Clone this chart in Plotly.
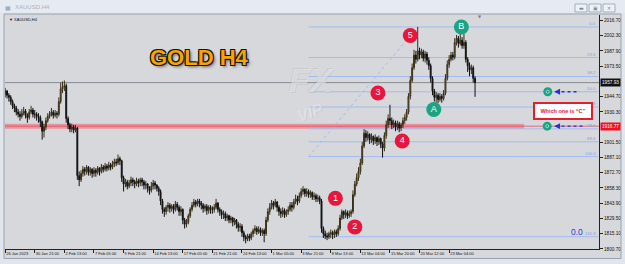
import plotly.graph_objects as go

# ---------------- data (XAUUSD H4, bars indexed from 26 Jan 2023) ----------------
first_open = 1947.0
closes = [
    1950, 1946, 1944, 1940, 1936, 1934, 1930, 1928, 1926, 1929, 1931, 1927, 1925, 1930, 1932, 1928,
    1928, 1926, 1925, 1921, 1912, 1916, 1922, 1926, 1928, 1930, 1927, 1929, 1928, 1940, 1952, 1954,
    1955, 1924, 1918, 1914, 1916, 1913, 1915, 1870, 1866, 1872, 1876, 1874, 1878, 1873, 1876, 1872,
    1875, 1873, 1877, 1874, 1878, 1876, 1879, 1877, 1880, 1878, 1881, 1883, 1882, 1886, 1884, 1868,
    1862, 1864, 1860, 1863, 1866, 1864, 1862, 1865, 1863, 1866, 1864, 1861, 1862, 1858, 1856, 1860,
    1863, 1861, 1858, 1855, 1846, 1838, 1836, 1840, 1842, 1839, 1841, 1838, 1843, 1840, 1836, 1838,
    1828, 1824, 1826, 1832, 1838, 1842, 1845, 1843, 1846, 1844, 1842, 1839, 1841, 1837, 1840, 1838,
    1838, 1840, 1844, 1838, 1836, 1833, 1834, 1830, 1832, 1828, 1830, 1826, 1828, 1824, 1821, 1822,
    1816, 1812, 1810, 1813, 1811, 1815, 1818, 1820, 1817, 1819, 1816, 1818, 1815, 1828, 1836, 1840,
    1844, 1842, 1845, 1840, 1836, 1834, 1837, 1833, 1836, 1838, 1842, 1840, 1845, 1848, 1846, 1851,
    1855, 1857, 1853, 1855, 1852, 1854, 1850, 1851, 1848, 1849, 1846, 1820, 1815, 1813, 1812, 1815,
    1816, 1814, 1817, 1815, 1820, 1830, 1836, 1833, 1835, 1832, 1834, 1836, 1852, 1862, 1868, 1874,
    1882, 1898, 1910, 1906, 1909, 1904, 1907, 1903, 1906, 1902, 1905, 1900, 1896, 1908, 1918, 1924,
    1922, 1918, 1920, 1916, 1919, 1915, 1918, 1922, 1925, 1930, 1945, 1960, 1972, 1984, 1980, 1988,
    1984, 1987, 1981, 1985, 1979, 1974, 1962, 1950, 1944, 1946, 1942, 1945, 1943, 1948, 1962, 1975,
    1980, 1984, 1982, 1996, 2000, 1995, 1998, 1993, 1996, 1980, 1974, 1970, 1972, 1962, 1957.93,
]
highs = [
    1953, 1951, 1948, 1946, 1942, 1938, 1936, 1933, 1931, 1933, 1935, 1933, 1929, 1933, 1936, 1934,
    1932, 1930, 1929, 1927, 1922, 1919, 1925, 1929, 1931, 1934, 1932, 1932, 1931, 1944, 1958, 1959,
    1960, 1957, 1926, 1920, 1919, 1918, 1918, 1916, 1874, 1875, 1879, 1878, 1880, 1879, 1878, 1877,
    1878, 1877, 1879, 1878, 1881, 1880, 1882, 1881, 1883, 1882, 1884, 1886, 1886, 1890, 1888, 1885,
    1870, 1867, 1866, 1866, 1869, 1868, 1866, 1868, 1867, 1868, 1868, 1866, 1865, 1863, 1860, 1864,
    1866, 1865, 1862, 1860, 1857, 1848, 1840, 1842, 1845, 1844, 1843, 1843, 1846, 1845, 1842, 1841,
    1839, 1830, 1829, 1834, 1840, 1845, 1848, 1847, 1848, 1848, 1846, 1844, 1843, 1843, 1842, 1842,
    1841, 1843, 1848, 1845, 1840, 1838, 1837, 1836, 1834, 1833, 1832, 1831, 1830, 1829, 1826, 1825,
    1824, 1818, 1814, 1815, 1815, 1817, 1820, 1823, 1822, 1822, 1821, 1820, 1820, 1831, 1839, 1844,
    1847, 1846, 1848, 1846, 1842, 1839, 1840, 1839, 1838, 1841, 1845, 1845, 1848, 1852, 1851, 1854,
    1858, 1860, 1858, 1858, 1857, 1856, 1855, 1854, 1853, 1852, 1851, 1848, 1822, 1818, 1816, 1817,
    1819, 1818, 1819, 1819, 1823, 1833, 1838, 1837, 1838, 1837, 1837, 1838, 1856, 1865, 1872, 1878,
    1886, 1902, 1914, 1913, 1912, 1910, 1910, 1908, 1909, 1907, 1908, 1906, 1902, 1911, 1922, 1928,
    1937, 1925, 1923, 1922, 1922, 1921, 1920, 1925, 1928, 1933, 1948, 1964, 1976, 1989, 1988, 2010.6,
    1991, 1990, 1989, 1988, 1987, 1982, 1976, 1964, 1952, 1949, 1948, 1948, 1947, 1951, 1966, 1979,
    1984, 1987, 1987, 2000, 2003, 2002, 2004, 2001, 2004, 1998, 1982, 1977, 1975, 1974, 1964,
]
lows = [
    1944, 1943, 1940, 1937, 1933, 1930, 1927, 1925, 1922, 1924, 1927, 1924, 1920, 1923, 1928, 1925,
    1924, 1922, 1920, 1916, 1904, 1906, 1913, 1920, 1924, 1926, 1924, 1925, 1924, 1926, 1938, 1948,
    1950, 1920, 1914, 1911, 1911, 1910, 1911, 1866, 1860, 1864, 1869, 1870, 1871, 1870, 1870, 1868,
    1869, 1869, 1871, 1870, 1872, 1873, 1874, 1874, 1875, 1875, 1876, 1878, 1879, 1880, 1880, 1864,
    1855, 1859, 1857, 1858, 1860, 1860, 1858, 1860, 1859, 1860, 1860, 1857, 1857, 1854, 1852, 1854,
    1857, 1857, 1855, 1851, 1842, 1834, 1831, 1833, 1836, 1835, 1836, 1834, 1836, 1837, 1832, 1832,
    1824, 1820, 1821, 1824, 1830, 1836, 1840, 1840, 1841, 1840, 1838, 1835, 1836, 1833, 1834, 1834,
    1834, 1835, 1838, 1835, 1832, 1829, 1829, 1827, 1827, 1825, 1825, 1822, 1823, 1820, 1817, 1817,
    1812, 1808, 1806, 1808, 1808, 1809, 1812, 1815, 1814, 1815, 1813, 1813, 1807, 1813, 1826, 1833,
    1838, 1838, 1840, 1836, 1832, 1830, 1831, 1830, 1831, 1833, 1836, 1836, 1838, 1843, 1842, 1844,
    1849, 1852, 1850, 1850, 1849, 1849, 1847, 1847, 1845, 1845, 1843, 1816, 1811, 1810, 1809, 1810,
    1811, 1810, 1811, 1812, 1813, 1818, 1828, 1829, 1830, 1829, 1830, 1831, 1834, 1850, 1860, 1865,
    1871, 1880, 1896, 1902, 1903, 1900, 1901, 1899, 1900, 1898, 1899, 1896, 1887, 1893, 1905, 1915,
    1918, 1914, 1915, 1912, 1913, 1911, 1912, 1915, 1919, 1922, 1928, 1942, 1958, 1970, 1976, 1978,
    1980, 1981, 1978, 1977, 1975, 1970, 1958, 1946, 1940, 1939, 1938.5, 1940, 1939, 1941, 1946, 1960,
    1972, 1978, 1979, 1980, 1993, 1991, 1993, 1990, 1990, 1977, 1968, 1964, 1966, 1958, 1944.5,
]
opens = [first_open] + closes[:-1]
bars = list(range(len(closes)))

date_labels = ["26 Jan 2023", "30 Jan 21:00", "2 Feb 13:00", "7 Feb 05:00", "9 Feb 21:00",
               "14 Feb 13:00", "17 Feb 05:00", "21 Feb 21:00", "24 Feb 13:00", "1 Mar 05:00",
               "3 Mar 21:00", "8 Mar 13:00", "13 Mar 04:00", "15 Mar 20:00", "20 Mar 12:00",
               "23 Mar 04:00"]
date_bars = [0, 16, 32, 48, 64, 80, 96, 112, 128, 144, 160, 176, 192, 208, 224, 240]

price_ticks = [2016.70, 2002.30, 1987.90, 1973.50, 1944.70, 1930.30, 1901.50,
               1887.10, 1872.70, 1858.30, 1843.90, 1829.50, 1815.10, 1800.70]

current_price = 1957.93
level_c = 1916.77

fib_levels = [0.0, 23.6, 38.2, 50.0, 61.8, 78.6, 88.6, 100.0, 161.8]
fib_high = 2010.6
fib_low = 1888.0
fib_start_bar = 164
fib_high_bar = 223

red_marks = ["1", "2", "3", "4", "5"]
red_mark_bar = [178.5, 189.0, 201.5, 214.6, 219.0]
red_mark_price = [1848.5, 1821.5, 1948.2, 1902.8, 2002.5]
teal_marks = ["A", "B"]
teal_mark_bar = [231.7, 246.6]
teal_mark_price = [1932.5, 2010.5]

# ---------------- geometry helpers (pixel -> paper) ----------------
W, H = 625, 264
PL, PR, PT, PB = 5, 599, 15, 249


def px(x):
    return (x - PL) / (PR - PL)


def py(y):
    return (PB - y) / (PB - PT)


CHART_BG = "#d7d8dc"
FRAME = "#e1e6ed"
FONT = "Liberation Sans"

fig = go.Figure()

fig.add_trace(go.Candlestick(
    x=bars, open=opens, high=highs, low=lows, close=closes,
    increasing=dict(line=dict(color="#3a3018", width=1), fillcolor="#8a7237"),
    decreasing=dict(line=dict(color="#111111", width=1), fillcolor="#111111"),
    whiskerwidth=0, showlegend=False, hoverinfo="skip",
))

# numbered circles
fig.add_trace(go.Scatter(
    x=red_mark_bar, y=red_mark_price, mode="markers+text", text=red_marks,
    marker=dict(size=15, color="#e8163c", line=dict(width=0)),
    textfont=dict(color="white", size=9, family=FONT), textposition="middle center",
    showlegend=False, hoverinfo="skip", cliponaxis=False,
))
fig.add_trace(go.Scatter(
    x=teal_mark_bar, y=teal_mark_price, mode="markers+text", text=teal_marks,
    marker=dict(size=15, color="#1ba383", line=dict(width=0)),
    textfont=dict(color="white", size=9, family=FONT), textposition="middle center",
    showlegend=False, hoverinfo="skip", cliponaxis=False,
))

fib_prices = [fib_high - lv / 100.0 * (fib_high - fib_low) for lv in fib_levels]
small_price = [fib_prices[3], level_c]
fig.add_trace(go.Scatter(
    x=[293.3, 293.0], y=small_price, mode="markers",
    marker=dict(size=9, color="#1ba383", line=dict(width=0)),
    showlegend=False, hoverinfo="skip",
))
fig.add_trace(go.Scatter(
    x=[293.3, 293.0], y=small_price, mode="markers",
    marker=dict(size=3, color="rgba(0,0,0,0)", line=dict(width=0.8, color="#a8e6d4")),
    showlegend=False, hoverinfo="skip",
))

shapes = []
annos = []

# window frame / client area
shapes.append(dict(type="rect", xref="paper", yref="paper", layer="below",
                   x0=px(4), x1=px(621), y0=py(14), y1=py(258.5),
                   fillcolor=CHART_BG, line=dict(width=0)))
shapes.append(dict(type="rect", xref="paper", yref="paper", layer="below",
                   x0=px(0), x1=px(625), y0=py(0), y1=py(12.5),
                   fillcolor="#e6ebf1", line=dict(width=0)))
shapes.append(dict(type="rect", xref="paper", yref="paper", layer="above",
                   x0=px(4), x1=px(621), y0=py(14), y1=py(258.5),
                   fillcolor="rgba(0,0,0,0)", line=dict(width=1, color="#9aa2ad")))
# window buttons
for bx in (575, 589, 603):
    shapes.append(dict(type="rect", xref="paper", yref="paper", layer="above",
                       x0=px(bx), x1=px(bx + 12), y0=py(4), y1=py(12),
                       fillcolor="#eef2f6", line=dict(width=1, color="#a2adbb")))
for gx, g in ((581, "▬"), (595, "▣"), (609, "✕")):
    annos.append(dict(xref="paper", yref="paper", x=px(gx), y=py(8), text=g, showarrow=False,
                      font=dict(size=5, color="#7d8794", family="DejaVu Sans"),
                      xanchor="center", yanchor="middle"))
annos.append(dict(xref="paper", yref="paper", x=px(13), y=py(7.5), text="XAUUSD,H4", showarrow=False,
                  font=dict(size=6, color="#a9b1bc", family=FONT), xanchor="left", yanchor="middle"))
annos.append(dict(xref="paper", yref="paper", x=px(7.5), y=py(7.5), text="▦", showarrow=False,
                  font=dict(size=6, color="#8a9bb4", family="DejaVu Sans"), xanchor="center", yanchor="middle"))
annos.append(dict(xref="paper", yref="paper", x=px(7), y=py(19.5), text="▼ XAUUSD,H4", showarrow=False,
                  font=dict(size=4, color="#111", family=FONT), xanchor="left", yanchor="middle"))
annos.append(dict(xref="paper", yref="paper", x=px(480), y=py(16.5), text="▼", showarrow=False,
                  font=dict(size=4, color="#777", family="DejaVu Sans"), xanchor="center", yanchor="middle"))

# faint watermark logo
annos.append(dict(xref="paper", yref="paper", x=px(312), y=py(80), text="<b><i>FX</i></b>", showarrow=False,
                  font=dict(size=34, color="rgba(236,237,240,0.55)", family=FONT,
                            shadow="1px 1px 0 rgba(150,152,160,0.35), -1px -1px 0 rgba(150,152,160,0.35)"),
                  xanchor="center", yanchor="middle"))
annos.append(dict(xref="paper", yref="paper", x=px(310), y=py(112), text="<b><i>VIP</i></b>", showarrow=False,
                  font=dict(size=16, color="rgba(236,237,240,0.5)", family=FONT,
                            shadow="1px 1px 0 rgba(150,152,160,0.3)"),
                  xanchor="center", yanchor="middle", textangle=-20))

# current price line (grey) and level C (red)
shapes.append(dict(type="line", xref="x", yref="y", x0=-1, x1=322, y0=current_price, y1=current_price,
                   line=dict(color="#858b94", width=1), layer="below"))
shapes.append(dict(type="line", xref="x", yref="y", x0=-1, x1=280.5, y0=level_c, y1=level_c,
                   line=dict(color="rgba(244,96,110,0.55)", width=5), layer="below"))
shapes.append(dict(type="line", xref="x", yref="y", x0=-1, x1=322, y0=level_c, y1=level_c,
                   line=dict(color="rgba(232,70,86,0.75)", width=1), layer="below"))

# fibonacci
for lv, fp in zip(fib_levels, fib_prices):
    shapes.append(dict(type="line", xref="x", yref="y", x0=fib_start_bar, x1=320.6, y0=fp, y1=fp,
                       line=dict(color="#a3bced", width=1), layer="below"))
    annos.append(dict(xref="paper", yref="y", x=px(598), y=fp, text=f"{lv:.1f}", showarrow=False,
                      font=dict(size=4.3, color="#7f9fe0", family=FONT),
                      xanchor="right", yanchor="bottom", yshift=-1))
shapes.append(dict(type="line", xref="x", yref="y", x0=fib_start_bar, x1=fib_high_bar,
                   y0=fib_low, y1=fib_high, line=dict(color="#a3bced", width=1, dash="dot"), layer="below"))

# dotted blue arrows to small circles
for yv, xe in zip(small_price, (310.5, 313.5)):
    shapes.append(dict(type="line", xref="x", yref="y", x0=297.5, x1=xe, y0=yv, y1=yv,
                       line=dict(color="#2233d6", width=1.3, dash="dot")))
    annos.append(dict(xref="x", yref="y", x=296.8, y=yv, ax=6, ay=0, text="", showarrow=True,
                      arrowhead=2, arrowsize=0.9, arrowwidth=1.3, arrowcolor="#2233d6"))

# question box
annos.append(dict(xref="paper", yref="paper", x=px(562.5), y=py(111), text="<b>Which one is “C”</b>",
                  showarrow=False, font=dict(size=5.5, color="#e0202c", family=FONT),
                  bgcolor="white", bordercolor="#e0202c", borderwidth=2, borderpad=2,
                  width=52, height=10, xanchor="center", yanchor="middle"))

# GOLD H4 title
annos.append(dict(xref="paper", yref="paper", x=px(199), y=py(57), text="<b>GOLD H4</b>", showarrow=False,
                  font=dict(size=22, color="#f5a500", family=FONT,
                            shadow="-1px -1px 0 #111, 1px -1px 0 #111, -1px 1px 0 #111, 1px 1px 0 #111, 2px 2px 3px #666"),
                  xanchor="center", yanchor="middle"))

# "0.0" blue text bottom right
annos.append(dict(xref="paper", yref="paper", x=px(577), y=py(231.5), text="0.0", showarrow=False,
                  font=dict(size=8.5, color="#2a3cdc", family=FONT), xanchor="center", yanchor="middle"))

# price boxes on axis
annos.append(dict(xref="paper", yref="y", x=1, y=current_price, xshift=1, text="1957.93", showarrow=False,
                  font=dict(size=4.7, color="white", family=FONT), bgcolor="#111", borderpad=1,
                  xanchor="left", yanchor="middle"))
annos.append(dict(xref="paper", yref="y", x=1, y=level_c, xshift=1, text="1916.77", showarrow=False,
                  font=dict(size=4.7, color="white", family=FONT), bgcolor="#f01020", borderpad=1,
                  xanchor="left", yanchor="middle"))

fig.update_layout(
    width=W, height=H,
    margin=dict(l=PL, r=W - PR, t=PT, b=H - PB),
    paper_bgcolor=FRAME, plot_bgcolor=CHART_BG,
    shapes=shapes, annotations=annos, showlegend=False,
    xaxis=dict(range=[-0.1, 321.0], tickvals=date_bars, ticktext=date_labels,
               ticks="outside", ticklen=3, tickwidth=1, tickcolor="#222", tickangle=0,
               showline=True, linecolor="#222", linewidth=1, showgrid=False, zeroline=False,
               ticklabelposition="outside right", ticklabelstandoff=0,
               tickfont=dict(size=4, color="#111", family=FONT),
               rangeslider=dict(visible=False), fixedrange=True),
    yaxis=dict(side="right", range=[1800.6, 2021.9], tickvals=price_ticks,
               ticktext=[f"{v:.2f}" for v in price_ticks],
               ticks="outside", ticklen=3, tickwidth=1, tickcolor="#222",
               showline=True, linecolor="#222", linewidth=1, showgrid=False, zeroline=False,
               tickfont=dict(size=4.7, color="#111", family=FONT), fixedrange=True),
)

fig.write_html("out.html")
